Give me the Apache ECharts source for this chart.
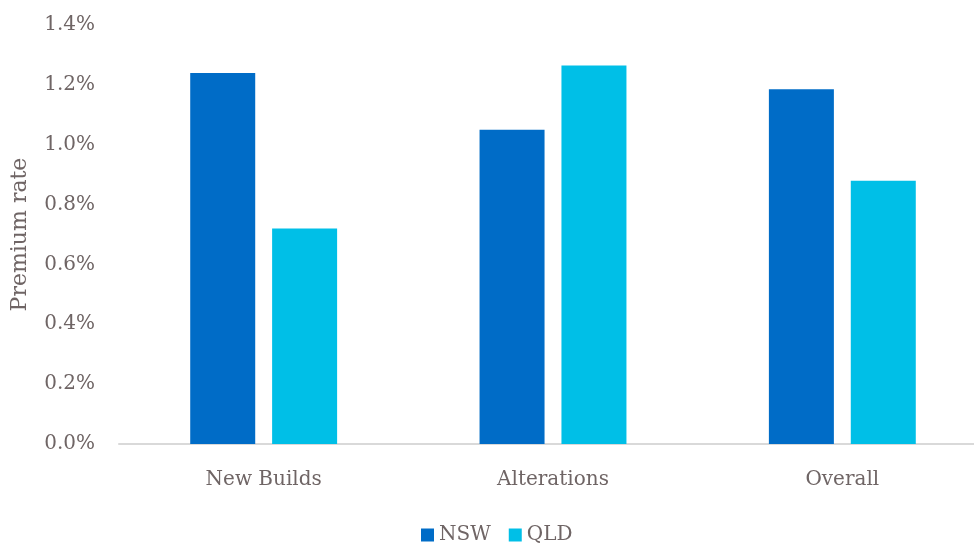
<!DOCTYPE html>
<html>
<head>
<meta charset="utf-8">
<script src="https://cdn.jsdelivr.net/npm/echarts@6/dist/echarts.min.js"></script>
<style>
  html, body { margin: 0; padding: 0; background: #fff; }
  #main { width: 974px; height: 547px; }
</style>
</head>
<body>
<div id="main"></div>
<script>
const categories = ["New Builds", "Alterations", "Overall"];
const nswValues = [1.24, 1.05, 1.185];
const qldValues = [0.72, 1.265, 0.88];

const chartContainer = echarts.init(document.getElementById("main"));
const textColor = "#6f6565";
const fontFamily = "DejaVu Serif";

const option = {
  animation: false,
  textStyle: { fontFamily: fontFamily, color: textColor },
  legend: {
    bottom: -3,
    left: 416,
    itemWidth: 13,
    itemHeight: 13,
    itemGap: 18,
    icon: "rect",
    textStyle: { fontSize: 20, color: textColor, fontFamily: fontFamily },
    data: ["NSW", "QLD"],
  },
  // plot runs a bit past the right edge of the canvas, like the source
  grid: {
    left: 119,
    width: 868,
    top: 25,
    height: 419,
    containLabel: false,
    outerBoundsMode: "none",
  },
  xAxis: {
    type: "category",
    data: categories,
    axisLine: { lineStyle: { color: "#d9d9d9", width: 2 } },
    axisTick: { show: false },
    axisLabel: { fontSize: 20, color: textColor, margin: 26 },
  },
  yAxis: {
    type: "value",
    min: 0,
    max: 1.4,
    interval: 0.2,
    name: "Premium rate",
    nameLocation: "middle",
    nameGap: 88,
    nameTextStyle: { fontSize: 22, color: textColor },
    splitLine: { show: false },
    axisLine: { show: false },
    axisTick: { show: false },
    axisLabel: {
      fontSize: 20,
      color: textColor,
      margin: 24,
      formatter: (v) => v.toFixed(1) + "%",
    },
  },
  series: [
    {
      name: "NSW",
      type: "bar",
      data: nswValues,
      barWidth: 65,
      barGap: "26%",
      itemStyle: { color: "#006cc7" },
    },
    {
      name: "QLD",
      type: "bar",
      data: qldValues,
      barWidth: 65,
      itemStyle: { color: "#00bfe7" },
    },
  ],
};

chartContainer.setOption(option);
</script>
</body>
</html>
